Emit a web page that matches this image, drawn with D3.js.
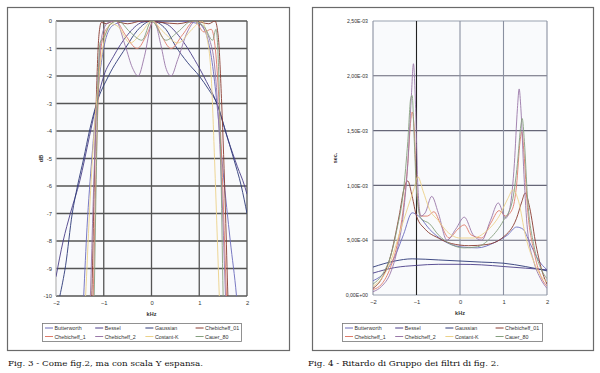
<!DOCTYPE html>
<html>
<head>
<meta charset="utf-8">
<script src="https://cdn.jsdelivr.net/npm/d3@7"></script>
<style>
  body { margin: 0; background: #fff; }
  svg { display: block; }
  .tick text { font-family: "Liberation Sans", Arial, sans-serif; fill: #333; }
</style>
</head>
<body>
<script>
// nomi delle serie (legenda)
var seriesNames = ["Butterworth", "Bessel", "Gaussian", "Chebicheff_01",
                   "Chebicheff_1", "Chebicheff_2", "Costant-K", "Cauer_80"];

var xTicks = [-2, -1, 0, 1, 2];
var dbTicks = [0, -1, -2, -3, -4, -5, -6, -7, -8, -9, -10];
var delayTicks = [0, 0.5e-3, 1.0e-3, 1.5e-3, 2.0e-3, 2.5e-3];

// Fig.3 - attenuazione in dB, punti [kHz, dB]
var dbButterworth = [[-1.5,-13],[-1.42,-10],[-1.35,-7.5],[-1.25,-5],[-1.15,-3],[-1.05,-1.5],[-0.95,-0.6],[-0.8,-0.15],[-0.5,0],[0.5,0],[1.0,-0.1],[1.15,-0.5],[1.27,-1.5],[1.37,-3],[1.5,-5.5],[1.65,-8],[1.78,-10],[1.85,-11.5]];
var dbBessel = [[-2,-9.3],[-1.85,-8],[-1.7,-7],[-1.5,-5.8],[-1.3,-4.2],[-1.15,-3],[-1.0,-2.0],[-0.8,-1.3],[-0.5,-0.5],[-0.2,-0.05],[0,0],[0.3,-0.1],[0.6,-0.6],[0.9,-1.4],[1.15,-2.2],[1.37,-3],[1.6,-4.3],[1.8,-5.3],[1.95,-6],[2.0,-6.3]];
var dbGaussian = [[-2.1,-11.2],[-1.92,-10],[-1.8,-8.9],[-1.66,-7],[-1.55,-6],[-1.42,-5],[-1.3,-4],[-1.15,-3],[-0.9,-2],[-0.55,-1],[-0.3,-0.35],[0,0],[0.3,-0.3],[0.5,-0.9],[0.75,-1.5],[1.0,-2.0],[1.2,-2.5],[1.37,-3],[1.55,-4],[1.72,-5],[1.88,-6],[2.0,-7]];
var dbCheb01 = [[-1.3,-12],[-1.25,-10],[-1.2,-6],[-1.15,-2.5],[-1.1,-0.5],[-1.05,-0.05],[-0.95,-0.1],[-0.8,0],[-0.5,-0.1],[-0.2,0],[0.2,-0.05],[0.55,-0.1],[0.9,0],[1.2,-0.1],[1.33,0],[1.4,-0.6],[1.47,-3],[1.55,-7],[1.6,-10],[1.65,-12]];
var dbCheb1 = [[-1.3,-13],[-1.22,-10],[-1.17,-6],[-1.12,-3],[-1.07,-1.2],[-1.0,-0.5],[-0.9,-0.2],[-0.75,0],[-0.55,-0.5],[-0.3,-1],[-0.1,-0.5],[0.05,0],[0.2,-0.5],[0.41,-1],[0.65,-0.5],[0.9,0],[1.1,-0.4],[1.25,-0.3],[1.33,-0.9],[1.4,-2.5],[1.47,-5],[1.53,-8],[1.57,-10],[1.62,-12]];
var dbCheb2 = [[-1.35,-13],[-1.28,-10],[-1.22,-6.5],[-1.16,-3.5],[-1.1,-1.5],[-1.02,-0.4],[-0.9,-0.05],[-0.75,0],[-0.55,-0.9],[-0.4,-1.7],[-0.28,-2],[-0.15,-1.3],[0,-0.1],[0.05,0],[0.2,-0.9],[0.3,-1.7],[0.41,-2],[0.55,-1.4],[0.75,-0.4],[0.93,0],[1.1,-0.3],[1.22,-0.7],[1.32,-1.6],[1.4,-3.5],[1.48,-6.5],[1.55,-10],[1.6,-12]];
var dbCostantK = [[-1.45,-12],[-1.38,-10],[-1.3,-7],[-1.2,-4],[-1.1,-2],[-1.0,-0.8],[-0.85,-0.1],[-0.7,-0.2],[-0.45,-0.8],[-0.2,-0.4],[0,0],[0.25,-0.4],[0.55,-0.8],[0.85,-0.3],[1.05,0],[1.15,-0.5],[1.25,-2],[1.32,-5],[1.38,-8],[1.42,-10],[1.47,-12]];
var dbCauer80 = [[-1.25,-13],[-1.2,-10],[-1.16,-6],[-1.12,-2.5],[-1.08,-0.8],[-1.0,-0.6],[-0.85,-0.1],[-0.7,0],[-0.45,-0.4],[-0.2,-0.7],[0,0],[0.3,-0.7],[0.55,-0.4],[0.85,0],[1.1,-0.2],[1.28,-0.7],[1.35,-0.3],[1.4,-1.5],[1.45,-5],[1.5,-10],[1.54,-13]];

// Fig.4 - ritardo di gruppo, punti [kHz, sec]
var gdButterworth = [[-2,0.13e-3],[-1.7,0.22e-3],[-1.5,0.35e-3],[-1.3,0.55e-3],[-1.1,0.75e-3],[-0.95,0.72e-3],[-0.7,0.6e-3],[-0.4,0.5e-3],[0,0.44e-3],[0.4,0.43e-3],[0.8,0.48e-3],[1.1,0.55e-3],[1.3,0.62e-3],[1.45,0.6e-3],[1.6,0.48e-3],[1.8,0.32e-3],[2,0.23e-3]];
var gdBessel = [[-2,0.2e-3],[-1.5,0.25e-3],[-1,0.27e-3],[-0.5,0.28e-3],[0,0.28e-3],[0.5,0.275e-3],[1,0.26e-3],[1.5,0.245e-3],[2,0.23e-3]];
var gdGaussian = [[-2,0.255e-3],[-1.5,0.31e-3],[-1.1,0.33e-3],[-0.5,0.32e-3],[0,0.31e-3],[0.5,0.3e-3],[1,0.29e-3],[1.5,0.26e-3],[2,0.22e-3]];
var gdCheb01 = [[-2,0.06e-3],[-1.8,0.15e-3],[-1.6,0.35e-3],[-1.4,0.72e-3],[-1.28,0.98e-3],[-1.2,1.04e-3],[-1.1,0.9e-3],[-1.0,0.72e-3],[-0.8,0.6e-3],[-0.5,0.52e-3],[-0.2,0.47e-3],[0.2,0.45e-3],[0.6,0.46e-3],[1.0,0.53e-3],[1.3,0.7e-3],[1.42,0.85e-3],[1.5,0.93e-3],[1.6,0.8e-3],[1.75,0.45e-3],[1.9,0.2e-3],[2,0.1e-3]];
var gdCheb1 = [[-2,0.05e-3],[-1.8,0.1e-3],[-1.6,0.25e-3],[-1.45,0.45e-3],[-1.3,0.8e-3],[-1.2,1.2e-3],[-1.13,1.6e-3],[-1.1,1.67e-3],[-1.05,1.5e-3],[-1.0,1.0e-3],[-0.9,0.72e-3],[-0.75,0.72e-3],[-0.6,0.76e-3],[-0.45,0.65e-3],[-0.25,0.52e-3],[-0.05,0.6e-3],[0.1,0.64e-3],[0.25,0.55e-3],[0.5,0.52e-3],[0.7,0.65e-3],[0.9,0.77e-3],[1.05,0.72e-3],[1.2,0.78e-3],[1.3,1.0e-3],[1.38,1.4e-3],[1.42,1.49e-3],[1.47,1.3e-3],[1.55,0.8e-3],[1.7,0.4e-3],[1.85,0.18e-3],[2,0.08e-3]];
var gdCheb2 = [[-2,0.03e-3],[-1.8,0.08e-3],[-1.6,0.2e-3],[-1.45,0.4e-3],[-1.3,0.75e-3],[-1.2,1.2e-3],[-1.12,1.8e-3],[-1.07,2.11e-3],[-1.02,1.7e-3],[-0.97,1.0e-3],[-0.9,0.72e-3],[-0.8,0.75e-3],[-0.65,0.9e-3],[-0.5,0.75e-3],[-0.3,0.5e-3],[-0.1,0.6e-3],[0.1,0.71e-3],[0.3,0.55e-3],[0.5,0.5e-3],[0.7,0.68e-3],[0.88,0.84e-3],[1.05,0.7e-3],[1.15,0.8e-3],[1.25,1.2e-3],[1.32,1.7e-3],[1.36,1.88e-3],[1.4,1.7e-3],[1.47,1.1e-3],[1.55,0.6e-3],[1.7,0.3e-3],[1.85,0.15e-3],[2,0.06e-3]];
var gdCostantK = [[-2,0.08e-3],[-1.8,0.15e-3],[-1.6,0.3e-3],[-1.4,0.55e-3],[-1.2,0.8e-3],[-1.05,0.98e-3],[-0.97,1.08e-3],[-0.85,0.95e-3],[-0.7,0.78e-3],[-0.5,0.68e-3],[-0.3,0.58e-3],[0,0.52e-3],[0.3,0.52e-3],[0.6,0.58e-3],[0.9,0.72e-3],[1.1,0.88e-3],[1.22,0.96e-3],[1.35,0.85e-3],[1.5,0.55e-3],[1.7,0.3e-3],[1.85,0.18e-3],[2,0.12e-3]];
var gdCauer80 = [[-2,0.1e-3],[-1.8,0.18e-3],[-1.6,0.35e-3],[-1.45,0.6e-3],[-1.3,0.95e-3],[-1.2,1.4e-3],[-1.13,1.8e-3],[-1.1,1.82e-3],[-1.05,1.4e-3],[-1.0,0.95e-3],[-0.9,0.7e-3],[-0.7,0.65e-3],[-0.5,0.55e-3],[-0.2,0.46e-3],[0.1,0.43e-3],[0.4,0.44e-3],[0.7,0.52e-3],[1.0,0.68e-3],[1.2,0.85e-3],[1.32,1.2e-3],[1.4,1.55e-3],[1.43,1.61e-3],[1.48,1.4e-3],[1.55,0.9e-3],[1.7,0.45e-3],[1.85,0.25e-3],[2,0.15e-3]];

// colori delle serie, stesso ordine della legenda
var colori = ["#6c6cbc", "#4b3f8a", "#2e3a78", "#8a3b30", "#e07c6a", "#9a78a8", "#ecd28a", "#86a07e"];

var svg = d3.select("body").append("svg")
    .attr("width", 600)
    .attr("height", 373);

// formato tipo Excel: 2,50E-03
function fmtSci(v) {
    if (v === 0) return "0,00E+00";
    var e = Math.floor(Math.log10(v) + 1e-9);
    var m = v / Math.pow(10, e);
    var es = (e < 0 ? "-" : "+") + String(Math.abs(e)).padStart(2, "0");
    return m.toFixed(2).replace(".", ",") + "E" + es;
}

function disegna(cfg) {
    var g = svg.append("g");

    // cornice del pannello
    g.append("rect")
        .attr("x", cfg.box[0] + 0.5).attr("y", cfg.box[1] + 0.5)
        .attr("width", cfg.box[2]).attr("height", cfg.box[3])
        .attr("fill", "#fff").attr("stroke", "#6a6a6a").attr("stroke-width", 1.2);

    var x = d3.scaleLinear().domain([-2, 2]).range([cfg.plot[0], cfg.plot[1]]);
    var y = d3.scaleLinear().domain(cfg.yDomain).range([cfg.plot[3], cfg.plot[2]]);

    g.append("rect")
        .attr("x", cfg.plot[0]).attr("y", cfg.plot[2])
        .attr("width", cfg.plot[1] - cfg.plot[0]).attr("height", cfg.plot[3] - cfg.plot[2])
        .attr("fill", "#f9fafc");

    // griglia
    g.selectAll(".hgrid").data(cfg.yTicks).enter().append("line")
        .attr("x1", cfg.plot[0]).attr("x2", cfg.plot[1])
        .attr("y1", function(d) { return y(d); }).attr("y2", function(d) { return y(d); })
        .attr("stroke", function(d) { return cfg.hGridColor(d); })
        .attr("stroke-width", cfg.gridW);
    g.selectAll(".vgrid").data(xTicks).enter().append("line")
        .attr("y1", cfg.plot[2]).attr("y2", cfg.plot[3])
        .attr("x1", function(d) { return x(d); }).attr("x2", function(d) { return x(d); })
        .attr("stroke", function(d) { return cfg.vGridColor(d); })
        .attr("stroke-width", cfg.gridW);

    // curve
    var clipId = "clip" + cfg.id;
    svg.append("clipPath").attr("id", clipId).append("rect")
        .attr("x", cfg.plot[0]).attr("y", cfg.plot[2])
        .attr("width", cfg.plot[1] - cfg.plot[0]).attr("height", cfg.plot[3] - cfg.plot[2]);

    var linea = d3.line()
        .x(function(d) { return x(d[0]); })
        .y(function(d) { return y(d[1]); })
        .curve(d3.curveMonotoneX);

    g.append("g").attr("clip-path", "url(#" + clipId + ")")
        .selectAll("path").data(cfg.series).enter().append("path")
        .attr("d", linea)
        .attr("fill", "none")
        .attr("stroke", function(d, i) { return colori[i]; })
        .attr("stroke-width", 1)
        .attr("stroke-opacity", 0.9);

    // assi
    var ax = g.append("g")
        .attr("transform", "translate(0," + cfg.plot[3] + ")")
        .call(d3.axisBottom(x).tickValues(xTicks).tickSize(0).tickPadding(5).tickFormat(d3.format("d")));
    ax.select(".domain").remove();
    ax.selectAll("text").attr("font-size", 5.8);

    var ay = g.append("g")
        .attr("transform", "translate(" + cfg.plot[0] + ",0)")
        .call(d3.axisLeft(y).tickValues(cfg.yTicks).tickSize(0).tickPadding(cfg.yPad).tickFormat(cfg.yFmt));
    ay.select(".domain").remove();
    ay.selectAll("text").attr("font-size", cfg.yFont);

    g.append("text")
        .attr("x", (cfg.plot[0] + cfg.plot[1]) / 2).attr("y", cfg.plot[3] + 20)
        .attr("text-anchor", "middle")
        .attr("font-family", "Liberation Sans, Arial, sans-serif")
        .attr("font-size", 5.5).attr("font-weight", "bold").attr("fill", "#333")
        .text("kHz");

    g.append("text")
        .attr("transform", "translate(" + cfg.yLabelX + "," + ((cfg.plot[2] + cfg.plot[3]) / 2) + ") rotate(-90)")
        .attr("text-anchor", "middle")
        .attr("font-family", "Liberation Sans, Arial, sans-serif")
        .attr("font-size", 5.5).attr("font-weight", "bold").attr("fill", "#333")
        .text(cfg.yLabel);

    // legenda
    var lg = g.append("g");
    lg.append("rect")
        .attr("x", cfg.legend[0] + 0.5).attr("y", cfg.legend[1] + 0.5)
        .attr("width", cfg.legend[2]).attr("height", 18)
        .attr("fill", "#fff").attr("stroke", "#777").attr("stroke-width", 0.8);
    var voci = lg.selectAll(".voce").data(seriesNames).enter().append("g")
        .attr("transform", function(d, i) {
            var col = i % 4, row = Math.floor(i / 4);
            return "translate(" + (cfg.legend[0] + 3 + col * 50.2) + "," + (cfg.legend[1] + 5 + row * 8.5) + ")";
        });
    voci.append("line")
        .attr("x1", 0).attr("x2", 8).attr("y1", 0).attr("y2", 0)
        .attr("stroke", function(d, i) { return colori[i]; }).attr("stroke-width", 1);
    voci.append("text")
        .attr("x", 9.5).attr("y", 2)
        .attr("font-family", "Liberation Sans, Arial, sans-serif")
        .attr("font-size", 5.3).attr("fill", "#333")
        .text(function(d) { return d; });

    // didascalia
    g.append("text")
        .attr("x", cfg.caption[0]).attr("y", cfg.caption[1])
        .attr("font-family", "DejaVu Serif, serif")
        .attr("font-size", 8).attr("fill", "#111")
        .attr("textLength", cfg.caption[2]).attr("lengthAdjust", "spacingAndGlyphs")
        .text(cfg.captionText);
}

disegna({
    id: 1,
    box: [7, 7, 282, 343],
    plot: [56, 247, 21, 296],
    yDomain: [-10, 0],
    yTicks: dbTicks,
    yFmt: function(d) { return d; },
    yPad: 4,
    yFont: 5.8,
    yLabel: "dB",
    yLabelX: 43,
    gridW: 1.3,
    hGridColor: function(d) { return "#555"; },
    vGridColor: function(d) { return d === -2 ? "#bbb" : "#555"; },
    series: [dbButterworth, dbBessel, dbGaussian, dbCheb01, dbCheb1, dbCheb2, dbCostantK, dbCauer80],
    legend: [42, 323, 199],
    caption: [8, 366, 195],
    captionText: "Fig. 3 - Come fig.2, ma con scala Y espansa."
});

disegna({
    id: 2,
    box: [312, 7, 281, 343],
    plot: [373, 547, 21, 295],
    yDomain: [0, 2.5e-3],
    yTicks: delayTicks,
    yFmt: fmtSci,
    yPad: 5,
    yFont: 5.2,
    yLabel: "sec.",
    yLabelX: 337,
    gridW: 1.1,
    hGridColor: function(d) { return (d === 0 || d === 2.5e-3) ? "#9aa2b0" : "#667"; },
    vGridColor: function(d) { return d === -1 ? "#222" : "#8a90a0"; },
    series: [gdButterworth, gdBessel, gdGaussian, gdCheb01, gdCheb1, gdCheb2, gdCostantK, gdCauer80],
    legend: [342, 323, 200],
    caption: [308, 366, 191],
    captionText: "Fig. 4 - Ritardo di Gruppo dei filtri di fig. 2."
});
</script>
</body>
</html>
